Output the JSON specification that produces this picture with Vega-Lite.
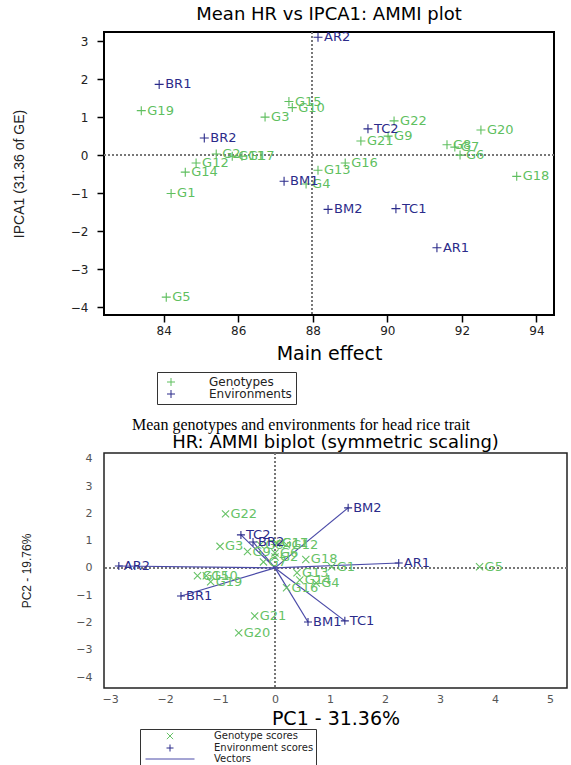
{
"$schema": "https://vega.github.io/schema/vega-lite/v6.json",
"autosize": {"type": "none"},
"padding": {"left": 104, "top": 32, "right": 467, "bottom": 733},
"bounds": "flush",
"spacing": 20,
"resolve": {"scale": {"color": "independent", "shape": "independent"}, "legend": {"color": "independent", "shape": "independent"}},
"config": {
  "font": "DejaVu Sans",
  "title": {"font": "DejaVu Sans", "fontWeight": "normal", "color": "#000"},
  "axis": {"grid": false, "domain": false, "labelFont": "DejaVu Sans", "titleFont": "DejaVu Sans", "titleFontWeight": "normal", "labelColor": "#222", "titleColor": "#000", "labelOverlap": false, "format": "d"},
  "legend": {"labelFont": "DejaVu Sans", "labelColor": "#222"}
},
"datasets": {
  "top": [
    {"name": "G1", "type": "Genotypes", "x": 84.20, "y": -1.01},
    {"name": "G2", "type": "Genotypes", "x": 85.41, "y": 0.03},
    {"name": "G3", "type": "Genotypes", "x": 86.72, "y": 1.00},
    {"name": "G4", "type": "Genotypes", "x": 87.82, "y": -0.76},
    {"name": "G5", "type": "Genotypes", "x": 84.07, "y": -3.74},
    {"name": "G6", "type": "Genotypes", "x": 91.95, "y": 0.00},
    {"name": "G7", "type": "Genotypes", "x": 91.81, "y": 0.21},
    {"name": "G8", "type": "Genotypes", "x": 91.60, "y": 0.27},
    {"name": "G9", "type": "Genotypes", "x": 90.02, "y": 0.50},
    {"name": "G10", "type": "Genotypes", "x": 87.45, "y": 1.25},
    {"name": "G11", "type": "Genotypes", "x": 85.84, "y": -0.03},
    {"name": "G12", "type": "Genotypes", "x": 84.87, "y": -0.21},
    {"name": "G13", "type": "Genotypes", "x": 88.14, "y": -0.40},
    {"name": "G14", "type": "Genotypes", "x": 84.58, "y": -0.45},
    {"name": "G15", "type": "Genotypes", "x": 87.36, "y": 1.41},
    {"name": "G16", "type": "Genotypes", "x": 88.87, "y": -0.21},
    {"name": "G17", "type": "Genotypes", "x": 86.10, "y": -0.03},
    {"name": "G18", "type": "Genotypes", "x": 93.47, "y": -0.56},
    {"name": "G19", "type": "Genotypes", "x": 83.40, "y": 1.17},
    {"name": "G20", "type": "Genotypes", "x": 92.51, "y": 0.66},
    {"name": "G21", "type": "Genotypes", "x": 89.29, "y": 0.37},
    {"name": "G22", "type": "Genotypes", "x": 90.18, "y": 0.90},
    {"name": "AR1", "type": "Environments", "x": 91.33, "y": -2.44},
    {"name": "AR2", "type": "Environments", "x": 88.14, "y": 3.10},
    {"name": "BM1", "type": "Environments", "x": 87.23, "y": -0.69},
    {"name": "BM2", "type": "Environments", "x": 88.41, "y": -1.43},
    {"name": "BR1", "type": "Environments", "x": 83.88, "y": 1.86},
    {"name": "BR2", "type": "Environments", "x": 85.09, "y": 0.45},
    {"name": "TC1", "type": "Environments", "x": 90.23, "y": -1.41},
    {"name": "TC2", "type": "Environments", "x": 89.48, "y": 0.69}
  ],
  "bottom": [
    {"name": "G1", "kind": "Genotype scores", "x": 1.03, "y": 0.04},
    {"name": "G2", "kind": "Genotype scores", "x": 0.0, "y": 0.40},
    {"name": "G3", "kind": "Genotype scores", "x": -1.0, "y": 0.79},
    {"name": "G4", "kind": "Genotype scores", "x": 0.75, "y": -0.55},
    {"name": "G5", "kind": "Genotype scores", "x": 3.72, "y": 0.04},
    {"name": "G6", "kind": "Genotype scores", "x": 0.0, "y": 0.55},
    {"name": "G7", "kind": "Genotype scores", "x": -0.21, "y": 0.22},
    {"name": "G8", "kind": "Genotype scores", "x": -0.27, "y": 0.85},
    {"name": "G9", "kind": "Genotype scores", "x": -0.50, "y": 0.60},
    {"name": "G10", "kind": "Genotype scores", "x": -1.25, "y": -0.29},
    {"name": "G11", "kind": "Genotype scores", "x": 0.03, "y": 0.90},
    {"name": "G12", "kind": "Genotype scores", "x": 0.21, "y": 0.85},
    {"name": "G13", "kind": "Genotype scores", "x": 0.40, "y": -0.18},
    {"name": "G14", "kind": "Genotype scores", "x": 0.45, "y": -0.44},
    {"name": "G15", "kind": "Genotype scores", "x": -1.41, "y": -0.29},
    {"name": "G16", "kind": "Genotype scores", "x": 0.21, "y": -0.73},
    {"name": "G17", "kind": "Genotype scores", "x": 0.03, "y": 0.90},
    {"name": "G18", "kind": "Genotype scores", "x": 0.56, "y": 0.31},
    {"name": "G19", "kind": "Genotype scores", "x": -1.17, "y": -0.51},
    {"name": "G20", "kind": "Genotype scores", "x": -0.66, "y": -2.38},
    {"name": "G21", "kind": "Genotype scores", "x": -0.37, "y": -1.76},
    {"name": "G22", "kind": "Genotype scores", "x": -0.90, "y": 1.98},
    {"name": "AR1", "kind": "Environment scores", "x": 2.25, "y": 0.18},
    {"name": "AR2", "kind": "Environment scores", "x": -2.84, "y": 0.07},
    {"name": "BM1", "kind": "Environment scores", "x": 0.60, "y": -1.98},
    {"name": "BM2", "kind": "Environment scores", "x": 1.33, "y": 2.20},
    {"name": "BR1", "kind": "Environment scores", "x": -1.71, "y": -1.03},
    {"name": "BR2", "kind": "Environment scores", "x": -0.40, "y": 0.95},
    {"name": "TC1", "kind": "Environment scores", "x": 1.27, "y": -1.94},
    {"name": "TC2", "kind": "Environment scores", "x": -0.62, "y": 1.21}
  ],
  "caption": [{"text": "Mean genotypes and environments for head rice trait"}]
},
"vconcat": [
  {
    "width": 450, "height": 283,
    "view": {"stroke": "#000", "strokeWidth": 2},
    "title": {"text": "Mean HR vs IPCA1: AMMI plot", "fontSize": 18, "offset": 7, "anchor": "middle"},
    "data": {"name": "top"},
    "layer": [
      {"mark": {"type": "rule", "strokeDash": [2, 2], "color": "#777", "strokeWidth": 1}, "encoding": {"y": {"datum": 0, "type": "quantitative"}}},
      {"mark": {"type": "rule", "strokeDash": [2, 2], "color": "#777", "strokeWidth": 1}, "encoding": {"x": {"datum": 87.97, "type": "quantitative"}}},
      {
        "mark": {"type": "point", "shape": "M-1,0L1,0M0,-1L0,1", "filled": false, "size": 81, "strokeWidth": 1.1, "opacity": 1},
        "encoding": {
          "x": {"field": "x", "type": "quantitative", "scale": {"domain": [82.4, 94.47], "nice": false, "zero": false},
                "axis": {"title": "Main effect", "values": [84, 86, 88, 90, 92, 94], "ticks": true, "tickSize": 7, "tickWidth": 1.5, "tickColor": "#000", "labelPadding": 3, "labelFontSize": 12, "titleFontSize": 19, "titlePadding": 8}},
          "y": {"field": "y", "type": "quantitative", "scale": {"domain": [-4.21, 3.24], "nice": false, "zero": false},
                "axis": {"title": "IPCA1 (31.36 of GE)", "values": [-4, -3, -2, -1, 0, 1, 2, 3], "ticks": true, "tickSize": 7, "tickWidth": 1.5, "tickColor": "#000", "labelPadding": 9, "labelFontSize": 12, "titleFont": "Liberation Sans", "titleFontSize": 14, "titleX": -85, "titleBaseline": "middle", "titleAlign": "center", "titleColor": "#222"}},
          "color": {"field": "type", "type": "nominal", "scale": {"domain": ["Genotypes", "Environments"], "range": ["#5fbf5f", "#2b2b8a"]},
                    "legend": {"orient": "none", "legendX": 53, "legendY": 340, "title": null, "symbolType": "M-1,0L1,0M0,-1L0,1", "symbolSize": 64, "symbolStrokeWidth": 1, "symbolOffset": 4, "labelOffset": 32, "labelFontSize": 12, "padding": 4, "rowPadding": 0, "strokeColor": "#333", "fillColor": "#fff"}}
        }
      },
      {"transform": [{"filter": "datum.type == 'Genotypes'"}],
       "mark": {"type": "text", "align": "left", "baseline": "middle", "dx": 6, "fontSize": 13, "color": "#5fbf5f"},
       "encoding": {"x": {"field": "x", "type": "quantitative"}, "y": {"field": "y", "type": "quantitative"}, "text": {"field": "name"}}},
      {"transform": [{"filter": "datum.type == 'Environments'"}],
       "mark": {"type": "text", "align": "left", "baseline": "middle", "dx": 6, "fontSize": 13, "color": "#2b2b8a"},
       "encoding": {"x": {"field": "x", "type": "quantitative"}, "y": {"field": "y", "type": "quantitative"}, "text": {"field": "name"}}}
    ]
  },
  {
    "width": 394, "height": 98,
    "view": {"stroke": null},
    "data": {"name": "caption"},
    "mark": {"type": "text", "font": "Liberation Serif", "fontSize": 16, "color": "#000", "dy": 41, "baseline": "middle", "align": "center"},
    "encoding": {"text": {"field": "text"}}
  },
  {
    "width": 463, "height": 235,
    "view": {"stroke": "#222", "strokeWidth": 1.5},
    "title": {"text": "HR: AMMI biplot (symmetric scaling)", "fontSize": 18, "offset": 1, "anchor": "middle"},
    "data": {"name": "bottom"},
    "encoding": {
      "x": {"field": "x", "type": "quantitative", "scale": {"domain": [-3.11, 5.31], "nice": false, "zero": false},
            "axis": {"title": "PC1 - 31.36%", "values": [-3, -2, -1, 0, 1, 2, 3, 4, 5], "ticks": false, "labelPadding": 5, "labelFontSize": 11, "labelColor": "#555", "titleFontSize": 19, "titlePadding": 5}},
      "y": {"field": "y", "type": "quantitative", "scale": {"domain": [-4.4, 4.21], "nice": false, "zero": false},
            "axis": {"title": "PC2 - 19.76%", "values": [-4, -3, -2, -1, 0, 1, 2, 3, 4], "tickCount": 9, "ticks": false, "labelPadding": 12, "labelFontSize": 11, "labelColor": "#555", "labelOverlap": false, "titleFont": "Liberation Sans", "titleFontSize": 12, "titleX": -78, "titleBaseline": "middle", "titleAlign": "center", "titleColor": "#222"}}
    },
    "layer": [
      {"mark": {"type": "rule", "strokeDash": [2, 2], "color": "#777", "strokeWidth": 1}, "encoding": {"y": {"datum": 0, "type": "quantitative"}, "x": null}},
      {"mark": {"type": "rule", "strokeDash": [2, 2], "color": "#777", "strokeWidth": 1}, "encoding": {"x": {"datum": 0, "type": "quantitative"}, "y": null}},
      {"transform": [{"filter": "datum.kind == 'Environment scores'"}],
       "mark": {"type": "rule", "color": "#4a4aa8", "strokeWidth": 1.2},
       "encoding": {"x2": {"datum": 0}, "y2": {"datum": 0}}},
      {
        "mark": {"type": "point", "filled": false, "size": 64, "strokeWidth": 1.1, "opacity": 1},
        "encoding": {
          "color": {"field": "kind", "type": "nominal", "scale": {"domain": ["Genotype scores", "Environment scores", "Vectors"], "range": ["#66c266", "#2b2b8a", "#4a4aa8"]},
                    "legend": {"orient": "none", "legendX": 36, "legendY": 276, "title": null, "symbolSize": 49, "symbolStrokeWidth": 1, "symbolOffset": 23, "labelOffset": 39, "labelFontSize": 10, "padding": 2, "rowPadding": 0, "strokeColor": "#333", "fillColor": "#fff"}},
          "shape": {"field": "kind", "type": "nominal", "scale": {"domain": ["Genotype scores", "Environment scores", "Vectors"], "range": ["M-0.9,-0.9L0.9,0.9M-0.9,0.9L0.9,-0.9", "M-1,0L1,0M0,-1L0,1", "M-7,0L7,0"]},
                    "legend": {"orient": "none", "legendX": 36, "legendY": 276, "title": null, "symbolSize": 49, "symbolStrokeWidth": 1, "symbolOffset": 23, "labelOffset": 39, "labelFontSize": 10, "padding": 2, "rowPadding": 0, "strokeColor": "#333", "fillColor": "#fff"}}
        }
      },
      {"transform": [{"filter": "datum.kind == 'Genotype scores'"}],
       "mark": {"type": "text", "align": "left", "baseline": "middle", "dx": 5, "fontSize": 13, "color": "#66c266"},
       "encoding": {"text": {"field": "name"}}},
      {"transform": [{"filter": "datum.kind == 'Environment scores'"}],
       "mark": {"type": "text", "align": "left", "baseline": "middle", "dx": 5, "fontSize": 13, "color": "#2b2b8a"},
       "encoding": {"text": {"field": "name"}}}
    ]
  }
]
}
